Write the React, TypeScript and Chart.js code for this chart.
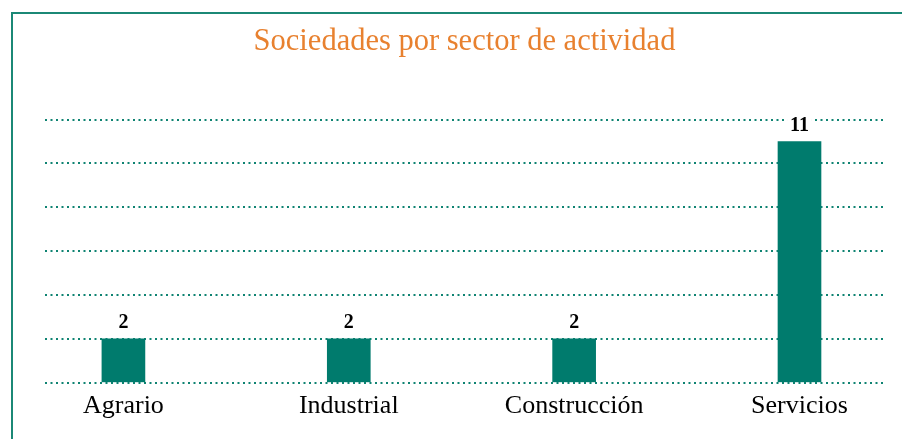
import { useEffect, useRef } from 'react';
import { Chart, registerables } from 'chart.js';

Chart.register(...registerables);

const titleText = 'Sociedades por sector de actividad';
const categories = ['Agrario', 'Industrial', 'Construcción', 'Servicios'];
const sociedades = [2, 2, 2, 11];
const yTicks = [0, 2, 4, 6, 8, 10, 12];

const SERIF = '"Liberation Serif", "Times New Roman", serif';
const TEAL = '#007b6d';
const GRID = '#0f8372';

export default function App() {
  const ref = useRef<HTMLCanvasElement>(null);

  useEffect(() => {
    document.body.style.overflow = 'hidden';
    const valueLabels = {
      id: 'valueLabels',
      afterDatasetsDraw(chart: any) {
        const ctx = chart.ctx;
        const meta = chart.getDatasetMeta(0);
        ctx.save();
        ctx.font = `bold 20px ${SERIF}`;
        ctx.textAlign = 'center';
        ctx.textBaseline = 'alphabetic';
        meta.data.forEach((bar: any, i: number) => {
          const t = String(sociedades[i]);
          const w = ctx.measureText(t).width;
          ctx.fillStyle = '#ffffff';
          ctx.fillRect(bar.x - w / 2 - 3, bar.y - 29, w + 6, 18);
          ctx.fillStyle = '#000000';
          ctx.fillText(t, bar.x, bar.y - 11);
        });
        ctx.restore();
      },
    };

    const chart = new Chart(ref.current!, {
      type: 'bar',
      data: {
        datasets: [
          {
            data: categories.map((_, i) => ({ x: i, y: sociedades[i] })),
            backgroundColor: TEAL,
            borderWidth: 0,
            barThickness: 43,
          },
        ],
      },
      options: {
        responsive: false,
        maintainAspectRatio: false,
        animation: false,
        layout: { padding: { left: 32, right: 26, top: 0, bottom: 9 } },
        plugins: {
          legend: { display: false },
          tooltip: { enabled: false },
          title: {
            display: true,
            text: titleText,
            color: '#e8812f',
            fullSize: false,
            font: { family: SERIF, size: 30.5, weight: 'normal' },
            padding: { top: 10, bottom: 59 },
          },
        },
        scales: {
          x: {
            type: 'linear',
            offset: false,
            bounds: 'data',
            min: -0.348,
            max: 3.375,
            afterBuildTicks: (scale: any) => {
              scale.ticks = categories.map((_, i) => ({ value: i }));
            },
            ticks: {
              autoSkip: false,
              maxRotation: 0,
              color: '#000000',
              padding: 8,
              font: { family: SERIF, size: 26 },
              callback: (v: any) => categories[v as number] ?? '',
            },
            grid: { display: false, drawTicks: false },
            border: { display: false },
          },
          y: {
            min: 0,
            max: 12,
            afterBuildTicks: (scale: any) => {
              scale.ticks = yTicks.map((v) => ({ value: v }));
            },
            ticks: { display: false },
            grid: { color: GRID, lineWidth: 2, drawTicks: false },
            border: { display: false, dash: [2, 3.5] },
          },
        },
      },
      plugins: [valueLabels],
    } as any);
    return () => chart.destroy();
  }, []);

  return (
    <div
      style={{
        marginLeft: 3,
        marginTop: 4,
        width: 897,
        height: 425,
        borderTop: '2px solid #1b8876',
        borderLeft: '2px solid #1b8876',
      }}
    >
      <canvas ref={ref} width={897} height={425} style={{ display: 'block' }} />
    </div>
  );
}
